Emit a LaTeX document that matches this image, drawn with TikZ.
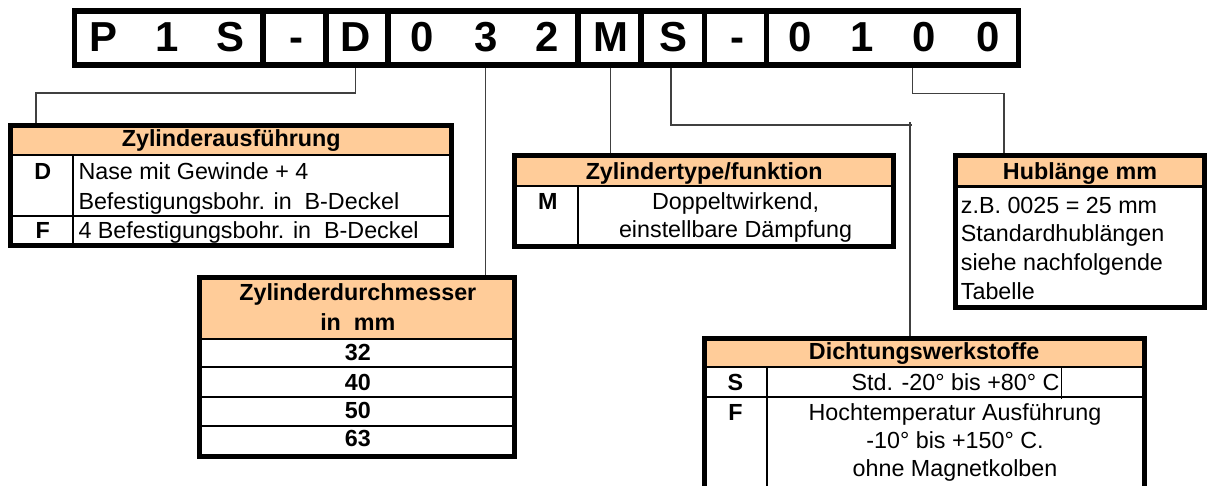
\documentclass[tikz,border=0pt]{standalone}
\usepackage{fontspec}
\setmainfont{Liberation Sans}
\definecolor{peach}{RGB}{255,204,153}
\begin{document}
\begin{tikzpicture}[x=1pt,y=-1pt,
  txt/.style={inner sep=0pt, font=\fontsize{23.3pt}{28pt}\selectfont, anchor=base},
  btxt/.style={txt, font=\fontsize{23.3pt}{28pt}\selectfont\bfseries},
  ltxt/.style={txt, anchor=base west},
  code/.style={inner sep=0pt, anchor=base, font=\fontsize{41.9pt}{50pt}\selectfont\bfseries},
  frame/.style={draw, line width=5pt, inner sep=0pt},
  rule/.style={line width=2.3pt},
  divider/.style={line width=5.5pt},
  conn/.style={line width=1.3pt, black!75},
  head/.style={fill=peach}]
\useasboundingbox (0,0) rectangle (1207,486);
\clip (0,0) rectangle (1207,486);

% header fills
\fill[head] (10.8,125.2) rectangle (451.5,155);
\fill[head] (514.8,155.8) rectangle (893.5,186);
\fill[head] (955.2,155.8) rectangle (1204.5,186.5);
\fill[head] (199.8,277.5) rectangle (514.8,339);
\fill[head] (704.2,338.5) rectangle (1144.2,367);

% inner rules
\draw[rule] (10.8,155) -- (451.5,155);
\draw[rule] (10.8,215.7) -- (451.5,215.7);
\draw[rule] (72.7,155) -- (72.7,245.5);
\draw[rule] (514.8,186) -- (893.5,186);
\draw[rule] (577.7,186) -- (577.7,246.5);
\draw[rule] (955.2,186.5) -- (1204.5,186.5);
\foreach \y in {339,367.3,396.7,426} \draw[rule] (199.8,\y) -- (514.8,\y);
\draw[rule] (704.2,367) -- (1144.2,367);
\draw[rule] (704.2,396.7) -- (1144.2,396.7);
\draw[rule] (766.7,367) -- (766.7,510);
\draw[line width=1pt] (1061,367) -- (1061,399);

% frames
\node[frame, line width=5.6pt, minimum width=943.8pt, minimum height=54.5pt] (bar) at (546.4,38.05) {};
\foreach \x in {262.8,326.2,387.8,577.8,641.2,704.5,766.7} \draw[divider] (\x,10.8) -- (\x,65.3);
\node[frame, minimum width=440.7pt, minimum height=120.3pt] (t1) at (231.15,185.35) {};
\node[frame, minimum width=378.7pt, minimum height=90.7pt] (t2) at (704.15,201.15) {};
\node[frame, minimum width=249.3pt, minimum height=151.7pt] (t3) at (1079.85,231.65) {};
\node[frame, minimum width=315pt, minimum height=179.3pt] (t4) at (357.3,367.15) {};
\node[frame, minimum width=440pt, minimum height=171.5pt] (t5) at (924.2,424.25) {};

% code letters
\node[code] (lP) at (103.3,51.7) {P};
\node[code] (l1) at (166.7,51.7) {1};
\node[code] (lS) at (230.7,51.7) {S};
\node[code] (lH1) at (296.7,51.7) {-};
\node[code] (lD) at (355.5,51.7) {D};
\node[code] (l0) at (421.7,51.7) {0};
\node[code] (l3) at (485.8,51.7) {3};
\node[code] (l2) at (546.7,51.7) {2};
\node[code] (lM) at (610.5,51.7) {M};
\node[code] (lS2) at (673.3,51.7) {S};
\node[code] (lH2) at (737.7,51.7) {-};
\node[code] (lA) at (800,51.7) {0};
\node[code] (lB) at (861.7,51.7) {1};
\node[code] (lC) at (924,51.7) {0};
\node[code] (lE) at (988.3,51.7) {0};

% table 1
\node[btxt] (h1) at (231.2,147) {Zylinderausführung};
\node[btxt] (k1a) at (42.7,180) {D};
\node[ltxt] (v1a) at (78.3,180) {Nase mit Gewinde + 4};
\node[ltxt] (v1b) at (78.3,209.3) {Befestigungsbohr. in~~B-Deckel};
\node[btxt] (k1b) at (42.7,238.3) {F};
\node[ltxt] (v1c) at (78.3,238.3) {4 Befestigungsbohr. in~~B-Deckel};

% table 2
\node[btxt] (h2) at (704.2,179.5) {Zylindertype/funktion};
\node[btxt] (k2a) at (547.7,210) {M};
\node[txt] (v2a) at (735.6,210) {Doppeltwirkend,};
\node[txt] (v2b) at (735.6,238) {einstellbare Dämpfung};

% table 3
\node[btxt] (h3) at (1080,180) {Hublänge mm};
\node[ltxt] (v3a) at (960.7,213.3) {z.B. 0025 = 25 mm};
\node[ltxt] (v3b) at (960.7,242) {Standardhublängen};
\node[ltxt] (v3c) at (960.7,270.7) {siehe nachfolgende};
\node[ltxt] (v3d) at (960.7,299.3) {Tabelle};

% table 4
\node[btxt] (h4a) at (357.8,300.7) {Zylinderdurchmesser};
\node[btxt] (h4b) at (357.8,330) {in~~mm};
\node[btxt] (v4a) at (357.8,360.7) {32};
\node[btxt] (v4b) at (357.8,390) {40};
\node[btxt] (v4c) at (357.8,418.3) {50};
\node[btxt] (v4d) at (357.8,446.7) {63};

% table 5
\node[btxt] (h5) at (924.2,359.3) {Dichtungswerkstoffe};
\node[btxt] (k5a) at (735.5,390.7) {S};
\node[txt] (v5a) at (955.5,390.7) {Std. -20° bis +80° C};
\node[btxt] (k5b) at (735.5,420.7) {F};
\node[txt] (v5b) at (955,420.7) {Hochtemperatur Ausführung};
\node[txt] (v5c) at (955,448.3) {-10° bis +150° C.};
\node[txt] (v5d) at (955,476.7) {ohne Magnetkolben};

% connectors
\coordinate (kD) at (36,93);
\draw[conn] (lD |- bar.south) |- (kD) -- (kD |- t1.north);
\draw[conn] (l3 |- bar.south) -- (l3 |- t4.north);
\draw[conn] (lM |- bar.south) -- (lM |- t2.north);
\coordinate (sS) at (671,0);
\coordinate (kS) at (912,125);
\draw[conn] (sS |- bar.south) |- (kS);
\coordinate (kS2) at (910,122.5);
\draw[conn] (kS2) -- (kS2 |- t5.north);
\coordinate (sH) at (912.7,0);
\coordinate (kH) at (1004,93.3);
\draw[conn] (sH |- bar.south) |- (kH) -- (kH |- t3.north);
\end{tikzpicture}
\end{document}
